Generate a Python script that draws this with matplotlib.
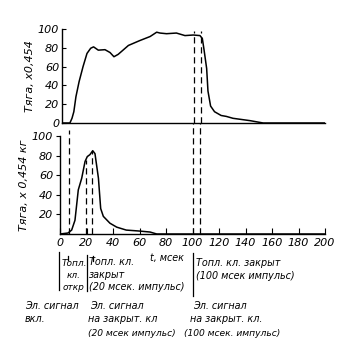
import matplotlib.pyplot as plt

# Thrust trace, 100 ms pulse (top) and 20 ms pulse (bottom)
t_long = [0, 6, 7.6, 9, 10.6, 13, 16, 19, 21.8, 24, 27.6, 32.7, 36.5, 39.5, 42.7,
          50.5, 59, 67, 72, 74.5, 79.5, 87, 93.5, 99.8, 104.9, 106.7, 108, 110,
          111, 113, 116, 121, 125, 130, 143, 153, 200]
thrust_long = [0, 0, 5, 12, 28, 44, 60, 74, 79.5, 81, 77.5, 78, 75, 70.5, 73,
               82.5, 87.6, 92, 96.6, 95.7, 95, 95.7, 93, 93.6, 93, 90, 78, 58,
               34, 18, 12, 8, 7, 5, 2.5, 0, 0]

t_short = [0, 6, 8.8, 11.3, 13.8, 16.4, 18.9, 20.6, 22.6, 24.7, 26.4, 29, 30.7,
           32.7, 37.7, 42.8, 50, 60, 68, 73, 200]
thrust_short = [0, 1, 4, 14, 45, 57, 74, 79, 81, 85, 82, 57, 26, 18, 11, 7, 4,
                3, 2, 0, 0]

# event times, ms
valve_open = 7
short_close = [19.5, 24.5]
long_close = [100, 105.5]

FONT = dict(family='DejaVu Sans', style='italic')
W, H = 350, 345


def fx(x):
    return x / W


def fy(y):
    return 1 - y / H


fig = plt.figure(figsize=(3.5, 3.45), dpi=100)
ax1 = fig.add_axes([fx(62), fy(123), 263 / W, 94 / H])
ax2 = fig.add_axes([fx(60), fy(234), 265 / W, 98 / H])

for ax in (ax1, ax2):
    ax.set_xlim(0, 200)
    ax.set_ylim(0, 100)
    for s in ('top', 'right'):
        ax.spines[s].set_visible(False)
    ax.spines['left'].set_linewidth(1.0)
    ax.spines['bottom'].set_linewidth(1.0)

ax1.plot(t_long, thrust_long, color='black', lw=1.1)
ax2.plot(t_short, thrust_short, color='black', lw=1.1)

dash = dict(color='black', lw=0.9, ls=(0, (5, 3)), clip_on=False)
for t in long_close:
    ax1.plot([t, t], [0, 98], **dash)
    ax2.plot([t, t], [0, 113], **dash)
ax2.plot([valve_open, valve_open], [0, 106], **dash)
ax2.plot([short_close[0], short_close[0]], [0, 76], **dash)
ax2.plot([short_close[1], short_close[1]], [0, 85], **dash)

# ticks
ax1.set_xticks([])
ax1.set_yticks(range(0, 101, 20))
ax1.tick_params(axis='y', direction='in', length=3, width=0.8, pad=2)
ax2.set_yticks(range(20, 101, 20))
ax2.set_xticks(range(0, 201, 20))
ax2.tick_params(axis='y', direction='out', length=3, width=0.8, pad=2)
ax2.tick_params(axis='x', direction='in', length=4, width=0.8, pad=3)
for ax in (ax1, ax2):
    for lab in ax.get_xticklabels() + ax.get_yticklabels():
        lab.set(**FONT, fontsize=8)

ax1.set_ylabel('Тяга, x0,454', fontsize=8, labelpad=2, **FONT)
ax2.set_ylabel('Тяга, x 0,454 кг', fontsize=8, labelpad=2, **FONT)

# brackets under the time axis
bracket = dict(color='black', lw=0.9, clip_on=False)
ax2.plot([-0.7, -0.7], [-18, -57], **bracket)
ax2.plot([20.4, 20.4], [-21, -58], **bracket)
ax2.plot([100.4, 100.4], [-19, -63], **bracket)
ax2.plot([6, 6], [-22, -27], **bracket)
ax2.plot([25, 25], [-22, -28], **bracket)


def put(x, y, s, ha='left', size=6.9):
    fig.text(fx(x), fy(y), s, ha=ha, va='center', fontsize=size, **FONT)


put(74, 264, 'Топл.', ha='center', size=6.5)
put(74, 276, 'кл.', ha='center', size=6.5)
put(74, 288, 'откр', ha='center', size=6.5)
put(89, 262, 'Топл. кл.')
put(89, 274.5, 'закрыт')
put(89, 287, '(20 мсек. импульс)')
put(150, 258, 't, мсек')
put(196, 263, 'Топл. кл. закрыт')
put(196, 276, '(100 мсек импульс)')
put(25, 306, 'Эл. сигнал')
put(25, 319, 'вкл.')
put(90, 306, 'Эл. сигнал')
put(88, 319.5, 'на закрыт. кл')
put(88, 333, '(20 мсек импульс)', size=6.6)
put(193, 306, 'Эл. сигнал')
put(190, 319.5, 'на закрыт. кл.')
put(184, 333, '(100 мсек. импульс)', size=6.6)

fig.savefig('out.png', dpi=100, facecolor='white')
